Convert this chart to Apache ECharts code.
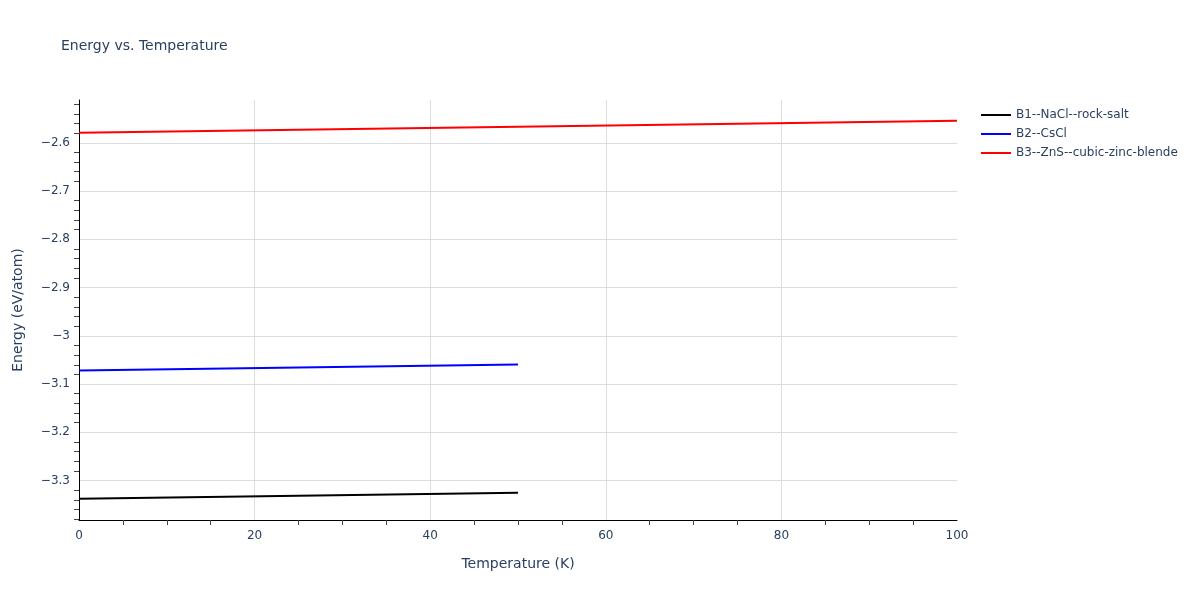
<!DOCTYPE html>
<html><head><meta charset="utf-8">
<script src="https://cdn.jsdelivr.net/npm/echarts@6/dist/echarts.min.js"></script>
<style>html,body{margin:0;padding:0;background:#fff}#c{width:1200px;height:600px}</style>
</head><body><div id="c"></div>
<script>
const seriesNames = ['B1--NaCl--rock-salt', 'B2--CsCl', 'B3--ZnS--cubic-zinc-blende'];
const seriesColors = ['#000000', '#0000ff', '#ff0000'];
const b1Temps = [0, 25, 50];
const b1Energy = [-3.3374, -3.3311, -3.3249];
const b2Temps = [0, 25, 50];
const b2Energy = [-3.0719, -3.0656, -3.0594];
const b3Temps = [0, 25, 50, 75, 100];
const b3Energy = [-2.5792, -2.5730, -2.5668, -2.5605, -2.5543];
const xRange = [0, 100];
const yRange = [-3.3816, -2.5114];

const font = '"DejaVu Sans", Verdana, sans-serif';
const txt = '#2a3f5f';
const pairs = [[b1Temps, b1Energy], [b2Temps, b2Energy], [b3Temps, b3Energy]];

const chart = echarts.init(document.getElementById('c'));
chart.setOption({
  animation: false,
  backgroundColor: '#fff',
  title: { text: 'Energy vs. Temperature', left: 56, top: 34,
    textStyle: { fontFamily: font, fontSize: 14, fontWeight: 'normal', color: txt } },
  legend: {
    orient: 'vertical', left: 976, top: 104, itemWidth: 30, itemHeight: 2, itemGap: 7,
    icon: 'rect',
    textStyle: { fontFamily: font, fontSize: 12, color: txt, padding: [0, 0, 0, 0] },
    data: seriesNames
  },
  grid: { left: 79, right: 243, top: 100, bottom: 80, outerBoundsMode: 'none', containLabel: false },
  xAxis: {
    type: 'value', min: xRange[0], max: xRange[1], interval: 20,
    name: 'Temperature (K)', nameLocation: 'middle', nameGap: 37,
    nameTextStyle: { fontFamily: font, fontSize: 14, color: txt },
    axisLine: { show: true, lineStyle: { color: '#000', width: 1 } },
    axisTick: { show: false },
    minorTick: { show: true, splitNumber: 4, length: 5, lineStyle: { color: '#444' } },
    axisLabel: { fontFamily: font, fontSize: 12, color: txt, margin: 10 },
    splitLine: { show: true, lineStyle: { color: '#dddddd' }, showMinLine: false, showMaxLine: false }
  },
  yAxis: {
    type: 'value', min: yRange[0], max: yRange[1], splitNumber: 8,
    name: 'Energy (eV/atom)', nameLocation: 'middle', nameGap: 54,
    nameTextStyle: { fontFamily: font, fontSize: 14, color: txt },
    axisLine: { show: true, lineStyle: { color: '#000', width: 1 } },
    axisTick: { show: false },
    minorTick: { show: true, splitNumber: 5, length: 5, lineStyle: { color: '#444' } },
    axisLabel: { fontFamily: font, fontSize: 12, color: txt, margin: 9, showMinLabel: false, showMaxLabel: false,
      formatter: v => (Math.round(v * 10) / 10).toString().replace('-', '\u2212') },
    splitLine: { show: true, lineStyle: { color: '#dddddd' }, showMinLine: false, showMaxLine: false }
  },
  series: seriesNames.map((n, i) => ({
    name: n, type: 'line', showSymbol: false, symbol: 'none',
    lineStyle: { color: seriesColors[i], width: 2 }, itemStyle: { color: seriesColors[i] },
    data: pairs[i][0].map((t, j) => [t, pairs[i][1][j]])
  }))
});
</script></body></html>
